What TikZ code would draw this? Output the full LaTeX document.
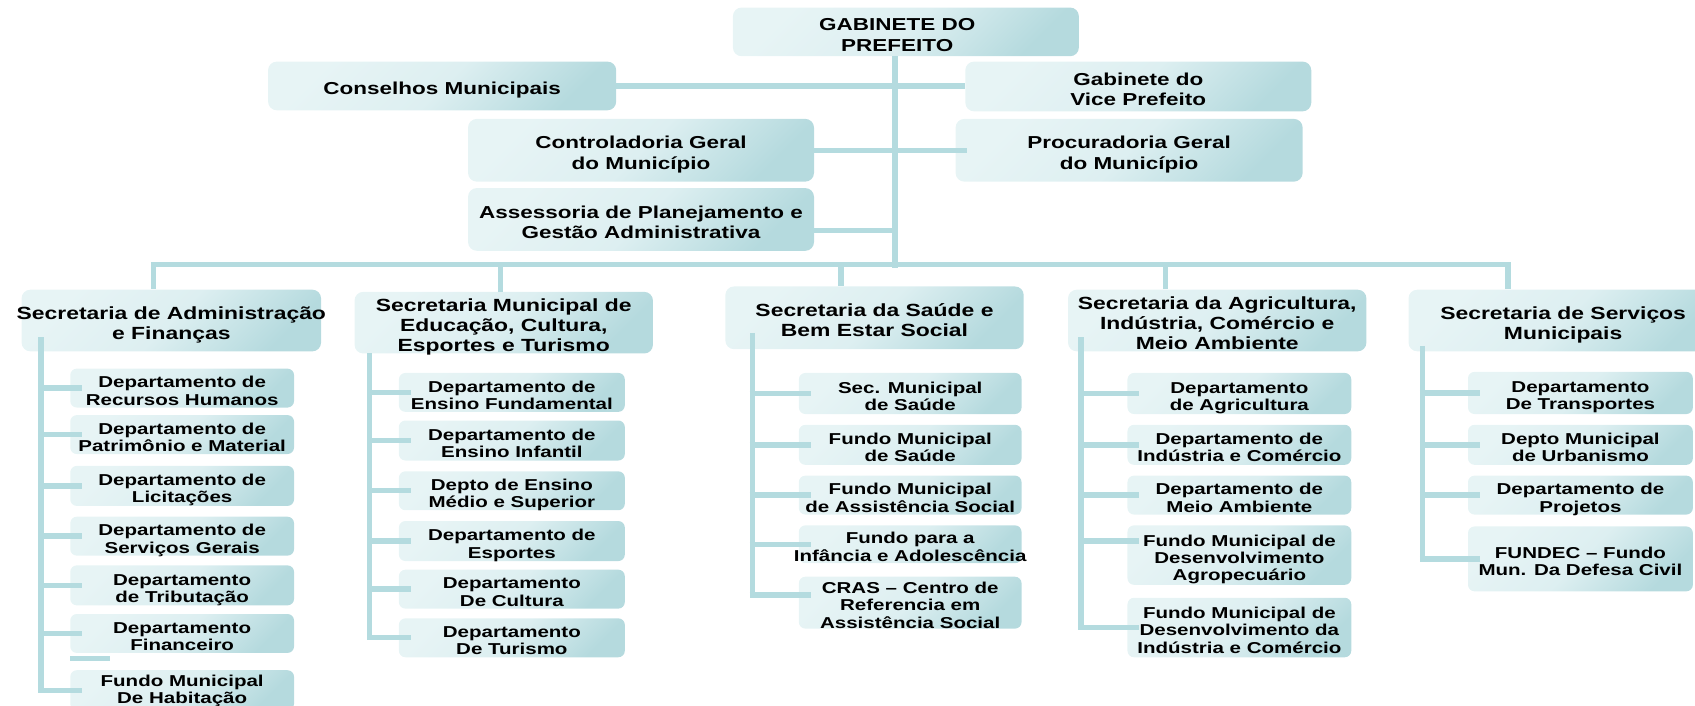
\documentclass[tikz,border=0pt]{standalone}
\usepackage{fontspec}
\setmainfont{Liberation Sans}[FakeStretch=1.3]
\definecolor{conn}{HTML}{B4DBDF}
\definecolor{bxl}{HTML}{E7F4F5}
\definecolor{bxm}{HTML}{DDEFF1}
\definecolor{bxd}{HTML}{B5DADE}
\newcommand\ZL[1]{\makebox[0pt]{#1}}
\newcommand\ZU[1]{\makebox[0pt]{\raisebox{3pt}[0pt][0pt]{#1}}}
\newcommand\ob[7]{\node[#1, minimum width={(#5)-(#3)}, minimum height={(#6)-(#4)}] (#2) at ({((#3)+(#5))/2},{((#4)+(#6))/2}) {\raisebox{-4.5pt}[\height][\depth]{\begin{tabular}{@{}c@{}}#7\end{tabular}}};}
\tikzset{
  obox/.style={rounded corners=8pt, left color=bxl, right color=bxd, middle color=bxm, shading angle=45, inner sep=0pt},
  topbox/.style={obox, font=\bfseries\fontsize{16}{19}\selectfont},
  secbox/.style={obox, font=\bfseries\fontsize{16.3}{18.5}\selectfont},
  depbox/.style={obox, rounded corners=6pt, font=\bfseries\fontsize{14.6}{16}\selectfont},
  link/.style={draw=conn, line width=5pt},
  trunk/.style={draw=conn, line width=6pt},
  sublink/.style={draw=conn, line width=5pt},
}
\begin{document}
\begin{tikzpicture}[x=1pt,y=-1pt]
\useasboundingbox (0,0) rectangle (1568,653);
% top level
\ob{topbox}{gab}{678}{7}{998}{52}{\ZL{\kern-16pt GABINETE DO}\\\ZL{\kern-16pt PREFEITO}}
\ob{topbox}{cons}{248}{57}{570}{102}{\ZL{Conselhos Municipais}}
\ob{topbox}{vice}{893}{57}{1213}{103}{\ZL{Gabinete do}\\\ZL{Vice Prefeito}}
\ob{topbox}{ctrl}{433}{110}{753}{168}{\ZL{Controladoria Geral}\\\ZL{do Município}}
\ob{topbox}{proc}{884}{110}{1205}{168}{\ZL{Procuradoria Geral}\\\ZL{do Município}}
\ob{topbox}{asse}{433}{174}{753}{232}{\ZL{Assessoria de Planejamento e}\\\ZL{Gestão Administrativa}}
% secretarias
\ob{secbox}{s1}{20}{268}{297}{325}{\ZL{Secretaria de Administração}\\\ZL{e Finanças}}
\ob{secbox}{s2}{328}{270}{604}{327}{\ZL{Secretaria Municipal de}\\\ZL{Educação, Cultura,}\\\ZL{Esportes e Turismo}}
\ob{secbox}{s3}{671}{265}{947}{323}{\ZL{Secretaria da Saúde e}\\\ZL{Bem Estar Social}}
\ob{secbox}{s4}{988}{268}{1264}{325}{\ZL{Secretaria da Agricultura,}\\\ZL{Indústria, Comércio e}\\\ZL{Meio Ambiente}}
\ob{secbox}{s5}{1303}{268}{1589}{325}{\ZL{Secretaria de Serviços}\\\ZL{Municipais}}
% column 1
\ob{depbox}{c1a}{65}{341}{272}{377}{\ZL{Departamento de}\\\ZL{Recursos Humanos}}
\ob{depbox}{c1b}{65}{384}{272}{420}{\ZL{Departamento de}\\\ZL{Patrimônio e Material}}
\ob{depbox}{c1c}{65}{431}{272}{468}{\ZL{Departamento de}\\\ZL{Licitações}}
\ob{depbox}{c1d}{65}{478}{272}{514}{\ZL{Departamento de}\\\ZL{Serviços Gerais}}
\ob{depbox}{c1e}{65}{523}{272}{560}{\ZL{Departamento}\\\ZL{de Tributação}}
\ob{depbox}{c1f}{65}{568}{272}{604}{\ZL{Departamento}\\\ZL{Financeiro}}
\ob{depbox}{c1g}{65}{620}{272}{657}{\ZU{Fundo Municipal}\\\ZU{De Habitação}}
% column 2
\ob{depbox}{c2a}{369}{345}{578}{381}{\ZL{Departamento de}\\\ZL{Ensino Fundamental}}
\ob{depbox}{c2b}{369}{389}{578}{426}{\ZL{Departamento de}\\\ZL{Ensino Infantil}}
\ob{depbox}{c2c}{369}{436}{578}{472}{\ZL{Depto de Ensino}\\\ZL{Médio e Superior}}
\ob{depbox}{c2d}{369}{482}{578}{519}{\ZL{Departamento de}\\\ZL{Esportes}}
\ob{depbox}{c2e}{369}{527}{578}{563}{\ZL{Departamento}\\\ZL{De Cultura}}
\ob{depbox}{c2f}{369}{572}{578}{608}{\ZL{Departamento}\\\ZL{De Turismo}}
% column 3
\ob{depbox}{c3a}{739}{345}{945}{383}{\ZL{Sec. Municipal}\\\ZL{de Saúde}}
\ob{depbox}{c3b}{739}{393}{945}{430}{\ZL{Fundo Municipal}\\\ZL{de Saúde}}
\ob{depbox}{c3c}{739}{440}{945}{476}{\ZL{Fundo Municipal}\\\ZL{de Assistência Social}}
\ob{depbox}{c3d}{739}{486}{945}{521}{\ZL{Fundo para a}\\\ZL{Infância e Adolescência}}
\ob{depbox}{c3e}{739}{534}{945}{581}{\ZL{CRAS – Centro de}\\\ZL{Referencia em}\\\ZL{Assistência Social}}
% column 4
\ob{depbox}{c4a}{1043}{345}{1250}{383}{\ZL{Departamento}\\\ZL{de Agricultura}}
\ob{depbox}{c4b}{1043}{393}{1250}{430}{\ZL{Departamento de}\\\ZL{Indústria e Comércio}}
\ob{depbox}{c4c}{1043}{440}{1250}{476}{\ZL{Departamento de}\\\ZL{Meio Ambiente}}
\ob{depbox}{c4d}{1043}{486}{1250}{541}{\ZL{Fundo Municipal de}\\\ZL{Desenvolvimento}\\\ZL{Agropecuário}}
\ob{depbox}{c4e}{1043}{553}{1250}{608}{\ZL{Fundo Municipal de}\\\ZL{Desenvolvimento da}\\\ZL{Indústria e Comércio}}
% column 5
\ob{depbox}{c5a}{1358}{344}{1566}{383}{\ZL{Departamento}\\\ZL{De Transportes}}
\ob{depbox}{c5b}{1358}{393}{1566}{430}{\ZL{Depto Municipal}\\\ZL{de Urbanismo}}
\ob{depbox}{c5c}{1358}{440}{1566}{476}{\ZL{Departamento de}\\\ZL{Projetos}}
\ob{depbox}{c5d}{1358}{487}{1566}{547}{\ZL{FUNDEC – Fundo}\\\ZL{Mun. Da Defesa Civil}}
% ---- connectors ----
\coordinate (tr) at (828,248);
\draw[trunk] (gab.south -| tr) -- (tr);
\draw[link] (cons.east) -- (cons.east -| vice.west);
\draw[link] (ctrl.east) -- ([xshift=11pt]ctrl.east -| proc.west);
\draw[link] ([xshift=-3pt,yshift=-10pt]asse.east) -- ([yshift=-10pt]asse.east -| tr);
\coordinate (d1) at (142,244.5);
\coordinate (d2) at (463,244.5);
\coordinate (d3) at (778,244.5);
\coordinate (d4) at (1078,244.5);
\coordinate (d5) at (1395,244.5);
\draw[link, shorten <=-2.5pt, shorten >=-2.5pt] (d1) -- (d5);
\foreach \d/\s in {d1/s1,d2/s2,d3/s3,d4/s4,d5/s5} \draw[link] (\d) -- (\d |- \s.north);
% sub trunks
\coordinate (t1) at (38,312);
\coordinate (t2) at (342,327);
\coordinate (t3) at (696,308);
\coordinate (t4) at (1000,312);
\coordinate (t5) at (1316,320);
\draw[sublink, shorten >=-2.5pt] (t1) -- (c1g.west -| t1);
\draw[sublink, shorten >=-2.5pt] (t2) -- (c2f.west -| t2);
\draw[sublink, shorten >=-2.5pt] (t3) -- ([yshift=7pt]c3e.west -| t3);
\draw[sublink, shorten >=-2.5pt] (t4) -- (c4e.west -| t4);
\draw[sublink, shorten >=-2.5pt] (t5) -- (c5d.west -| t5);
\foreach \c in {c1a,c1b,c1c,c1d,c1e,c1f,c1g} \draw[sublink, shorten <=-2.5pt] (\c.west -| t1) -- ([xshift=11pt]\c.west);
\foreach \c in {c2a,c2b,c2c,c2d,c2e,c2f} \draw[sublink, shorten <=-2.5pt] (\c.west -| t2) -- ([xshift=11pt]\c.west);
\foreach \c in {c3a,c3b,c3c,c3d} \draw[sublink, shorten <=-2.5pt] (\c.west -| t3) -- ([xshift=11pt]\c.west);
\draw[sublink, shorten <=-2.5pt] ([yshift=7pt]c3e.west -| t3) -- ([xshift=11pt,yshift=7pt]c3e.west);
\foreach \c in {c4a,c4b,c4c,c4e} \draw[sublink, shorten <=-2.5pt] (\c.west -| t4) -- ([xshift=11pt]\c.west);
\draw[sublink, shorten <=-2.5pt] ([yshift=13pt]c4d.west -| t4) -- ([xshift=11pt,yshift=13pt]c4d.west);
\foreach \c in {c5a,c5b,c5c,c5d} \draw[sublink, shorten <=-2.5pt] (\c.west -| t5) -- ([xshift=11pt]\c.west);
\draw[sublink] (65,609) -- (102,609);
\end{tikzpicture}
\end{document}
